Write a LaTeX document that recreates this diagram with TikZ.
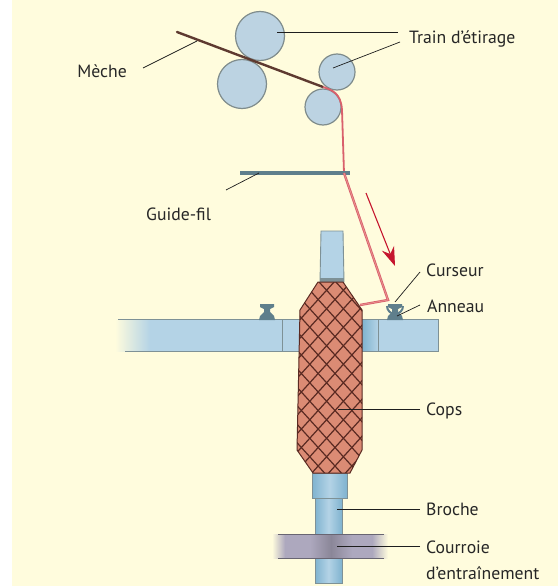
\documentclass[tikz,border=0pt]{standalone}
\usepackage{fontspec}
\setmainfont{PT Sans}
\usetikzlibrary{arrows.meta}
\definecolor{bg}{HTML}{FFFCDD}
\definecolor{roll}{HTML}{BCD3E2}
\definecolor{rollb}{HTML}{7F8C8C}
\definecolor{barb}{HTML}{7E9196}
\definecolor{steel}{HTML}{B4D3E6}
\definecolor{steeld}{HTML}{7FB3CF}
\definecolor{yarn}{HTML}{D9606C}
\definecolor{yarnl}{HTML}{E8908E}
\definecolor{meche}{HTML}{5E3A30}
\definecolor{cop}{HTML}{DB8B74}
\definecolor{copl}{HTML}{5A2A22}
\definecolor{belt}{HTML}{ADA8BE}
\definecolor{guide}{HTML}{5F7F8C}
\definecolor{arr}{HTML}{C5162E}
\definecolor{lead}{HTML}{1E1E1E}
\tikzset{
  x=1pt,y=-1pt,
  roller/.style={circle,draw=rollb,line width=1.2pt,fill=roll,inner sep=0pt,minimum size=#1},
  lbl/.style={font=\fontsize{17.7}{20}\selectfont,text=black!85,inner sep=0pt},
  leader/.style={draw=lead,line width=0.7pt},
  metal/.style={draw=barb,line width=0.9pt,fill=steel},
  ring/.style={fill=guide,draw=none},
  cyl/.style={draw=barb,line width=1pt,left color=steeld,right color=steeld,middle color=steel},
}
\begin{document}
\begin{tikzpicture}
\useasboundingbox (0,0) rectangle (558,586);
\fill[white] (0,0) rectangle (558,586);
\fill[bg] (12,0) rectangle (558,586);
% rollers
\node[roller=49pt] (r1) at (260,36) {};
\node[roller=49pt] (r2) at (242,84) {};
\node[roller=36pt] (r3) at (337,72) {};
\node[roller=36pt] (r4) at (323,107) {};
% bars
\shade[left color=bg,right color=steel,draw=none] (115,319) rectangle (150,351);
\fill[steel] (150,319) rectangle (300,351);
\fill[steel] (362,319) rectangle (438,351);
\shade[left color=steeld,right color=steel,draw=none] (362,320) rectangle (378,350);
\draw[barb,line width=0.9pt] (118,319) -- (300,319) (125,351) -- (300,351);
\draw[barb,line width=0.9pt] (362,319) -- (438,319) -- (438,351) -- (362,351);
\draw[barb,line width=0.9pt] (282,319) -- (282,351) (378,319) -- (378,351);
% rings
\foreach \cx in {267,395}{
  \fill[ring] (\cx-8,320) -- (\cx+8,320) -- (\cx+7,316) -- (\cx+3,312) -- (\cx+3,309) -- (\cx+7,307) -- (\cx+7,304) -- (\cx-7,304) -- (\cx-7,307) -- (\cx-3,309) -- (\cx-3,312) -- (\cx-7,316) -- cycle;
}
\draw[guide,line width=2pt] (387,306) arc (180:0:8);
% upper spindle
\path[metal] (320,282) -- (321,231) -- (343,231) -- (344,282) -- cycle;
\fill[barb] (320,278) rectangle (344,283);
% lower spindle
\path[cyl] (315,498) rectangle (342,583);
\path[cyl] (312,473) rectangle (347,498);
% belt
\shade[left color=bg,right color=belt,draw=none] (272,534) rectangle (285,558);
\fill[belt] (285,534) rectangle (372,558);
\shade[left color=belt,right color=bg,draw=none] (372,534) rectangle (388,558);
\shade[left color=belt,right color=belt!80!black] (310,534) rectangle (331,558);
\shade[left color=belt!80!black,right color=belt] (331,534) rectangle (352,558);
\draw[belt!60!black,line width=0.8pt] (278,534) -- (384,534) (278,558) -- (384,558);
% cops
\def\copath{(318,282) -- (343,282) -- (362,310) -- (362,450) -- (350,473) -- (313,473) -- (297,450) -- (300,310) -- cycle}
\fill[cop] \copath;
\begin{scope}
\clip \copath;
\foreach \k in {-20,...,40}{
  \draw[copl,line width=1.2pt] (250,{280+\k*18.5}) -- (420,{280+\k*18.5+170*1.1});
  \draw[copl,line width=1.2pt] (420,{280+\k*18.5}) -- (250,{280+\k*18.5+170*1.1});
}
\end{scope}
\draw[copl,line width=1pt] \copath;
% yarn
\draw[meche,line width=2.4pt,line cap=round] (177,32) -- (323,87);
\draw[yarn,line width=1.8pt] (323,87) .. controls (332,90) and (341,93) .. (342,110) -- (344,173);
\draw[guide,line width=3.4pt] (240,173) -- (350,173);
\draw[yarn,line width=2.4pt] (344,173) -- (388,300) -- (360,305);
\draw[yarnl,line width=0.8pt] (344,173) -- (388,300) -- (360,305);
% arrow
\coordinate (a1) at (366,193);
\coordinate (a2) at (395,266);
\draw[arr,line width=1.1pt,-{Stealth[length=19pt,width=13pt]}] (a1) -- (a2);
% labels
\node[lbl,anchor=west] (train) at (409,39) {Train d’étirage};
\node[lbl,anchor=east] (meche) at (127,71) {Mèche};
\node[lbl,anchor=west] (guidel) at (146,214) {Guide-fil};
\node[lbl,anchor=west] (curs) at (426,270) {Curseur};
\node[lbl,anchor=west] (ann) at (427,306) {Anneau};
\node[lbl,anchor=west] (copsl) at (426,411) {Cops};
\node[lbl,anchor=west] (broc) at (426,509) {Broche};
\node[lbl,anchor=west] (cour) at (426,547) {Courroie};
\node[lbl,anchor=west] (entr) at (426,573) {d'entraînement};
% leaders
\coordinate (t1) at (277,32);
\coordinate (t2) at (333,68);
\coordinate (tt1) at (398,32);
\coordinate (tt2) at (400,42);
\draw[leader] (tt1) -- (t1);
\draw[leader] (tt2) -- (t2);
\coordinate (m1) at (197,41);
\coordinate (mm) at (143,68);
\draw[leader] (mm) -- (m1);
\coordinate (g1) at (259,173);
\coordinate (gg) at (226,190);
\draw[leader] (gg) -- (g1);
\coordinate (c1) at (395,302);
\coordinate (cc) at (420,272);
\draw[leader] (cc) -- (c1);
\coordinate (n1) at (397,316);
\coordinate (nn) at (420,305);
\draw[leader] (nn) -- (n1);
\coordinate (k1) at (338,409);
\coordinate (kk) at (420,409);
\draw[leader] (kk) -- (k1);
\coordinate (b1) at (337,509);
\coordinate (bb) at (420,509);
\draw[leader] (bb) -- (b1);
\coordinate (o1) at (337,546);
\coordinate (oo) at (420,546);
\draw[leader] (oo) -- (o1);
\end{tikzpicture}
\end{document}
